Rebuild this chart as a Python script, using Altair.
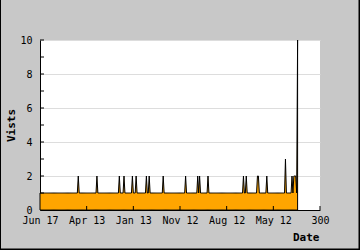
import altair as alt
import pandas as pd

# ---- data ----
last_day = 276
base_visits = 1
spike_days = [41, 61, 85, 90, 99, 103, 114, 117, 132, 156, 169, 171, 180,
              218, 221, 233, 234, 243, 263, 270, 272, 273, 274, 276]
spike_vals = [2, 2, 2, 2, 2, 2, 2, 2, 2, 2, 2, 2, 2,
              2, 2, 2, 2, 2, 3, 2, 2, 2, 2, 10]
x_tick_values = [0, 50, 100, 150, 200, 250, 300]
x_tick_labels = ["Jun 17", "Apr 13", "Jan 13", "Nov 12", "Aug 12", "May 12", "300"]
y_label_values = [0, 2, 4, 6, 8, 10]
y_tick_values = [1, 2, 3, 4, 5, 6, 7, 8, 9, 10]

spikes = dict(zip(spike_days, spike_vals))
df = pd.DataFrame({
    "day": list(range(last_day + 1)),
    "visits": [spikes.get(d, base_visits) for d in range(last_day + 1)],
})

FONT = "DejaVu Sans Mono"
W, H = 280, 170

label_expr = "[" + ",".join("'" + s + "'" for s in x_tick_labels) + "][round(datum.value/50)]"

x_axis = alt.Axis(values=x_tick_values, labelExpr=label_expr, ticks=False,
                  grid=False, labelFlush=False, labelOverlap=False,
                  labelFont=FONT, labelFontSize=10, labelColor="black",
                  labelPadding=5, domainColor="black",
                  title="Date", titleFont=FONT, titleFontSize=11,
                  titleFontWeight="bold", titleColor="black",
                  titleX=279, titleY=30, titleAlign="right",
                  titleBaseline="alphabetic")
y_axis = alt.Axis(values=y_label_values, ticks=False, grid=True,
                  gridColor="#DDDDDD", gridWidth=1,
                  labelFont=FONT, labelFontSize=10, labelColor="black",
                  labelPadding=8, domainColor="black",
                  title="Vists", titleFont=FONT, titleFontSize=11,
                  titleFontWeight="bold", titleColor="black",
                  titleAngle=270, titleX=-26, titleY=85,
                  titleAlign="center", titleBaseline="alphabetic")
x_scale = alt.Scale(domain=[0, 300], nice=False, zero=True)
y_scale = alt.Scale(domain=[0, 10], nice=False)

area = alt.Chart(df).mark_area(
    color="#FFA500", stroke="black", strokeWidth=1, interpolate="linear"
).encode(
    x=alt.X("day:Q", scale=x_scale, axis=x_axis),
    y=alt.Y("visits:Q", scale=y_scale, axis=y_axis),
)

ytick_df = pd.DataFrame({"visits": y_tick_values})
yticks = alt.Chart(ytick_df).mark_rule(color="black", strokeWidth=1).encode(
    y=alt.Y("visits:Q", scale=y_scale, axis=y_axis),
    x=alt.value(0), x2=alt.value(4),
)

xtick_df = pd.DataFrame({"day": x_tick_values[1:]})
xticks = alt.Chart(xtick_df).mark_rule(color="black", strokeWidth=1).encode(
    x=alt.X("day:Q", scale=x_scale, axis=x_axis),
    y=alt.value(H), y2=alt.value(H - 4),
)

one = pd.DataFrame({"k": [0]})
border_left = alt.Chart(one).mark_rule(color="black", strokeWidth=1).encode(
    x=alt.value(-39.5), y=alt.value(-40), y2=alt.value(H + 40))
border_right = alt.Chart(one).mark_rule(color="black", strokeWidth=1.5).encode(
    x=alt.value(W + 39.25), y=alt.value(-40), y2=alt.value(H + 40))
border_bottom = alt.Chart(one).mark_rule(color="black", strokeWidth=1.5).encode(
    y=alt.value(H + 39.25), x=alt.value(-40), x2=alt.value(W + 40))

chart = alt.layer(area, yticks, xticks, border_left, border_right, border_bottom).properties(
    width=W, height=H,
    padding={"left": 40, "top": 40, "right": 40, "bottom": 40},
    autosize=alt.AutoSizeParams(type="none"),
    background="#C8C8C8",
).configure_view(fill="white", stroke=None)

chart.save("out.html", embed_options={"renderer": "svg", "actions": False})
